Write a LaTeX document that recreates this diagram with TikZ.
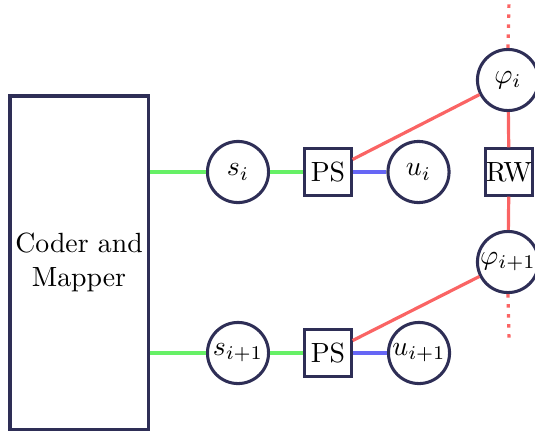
\documentclass[tikz,border=0pt]{standalone}
\definecolor{ink}{RGB}{46,46,86}
\definecolor{gwire}{RGB}{102,240,102}
\definecolor{bwire}{RGB}{102,102,245}
\definecolor{rwire}{RGB}{250,100,100}
\begin{document}
\begin{tikzpicture}[x=0.36pt,y=-0.36pt,
  blk/.style={draw=ink,line width=1.1pt,fill=white,inner sep=0pt},
  var/.style={blk,circle,minimum size=22pt},
  sq/.style={blk,minimum size=16.6pt},
  gw/.style={draw=gwire,line width=1.15pt},
  bw/.style={draw=bwire,line width=1.15pt},
  rw/.style={draw=rwire,line width=1.15pt},
  rdot/.style={rw,dash pattern=on 1.3pt off 2.3pt}]
\useasboundingbox (0,0) rectangle (535,433);

% free ends of the dotted continuations
\coordinate (topend) at (509,0);
\coordinate (botend) at (509,340);

\node[blk,minimum width=49.7pt,minimum height=119.9pt,align=center] (coder) at (79,262.5) {Coder and\\Mapper};

\node[var] (s1) at (238,172) {$s_i$};
\node[sq] (ps1) at (328,172) {PS};
\node[var] (u1) at (418.5,172) {$u_i$};
\node[var] (phi1) at (508,80) {$\varphi_i$};
\node[sq] (rwb) at (509,172) {RW};
\node[var] (phi2) at (508,262) {$\varphi_{i+1}$};

\node[var] (s2) at (238,353) {$s_{i+1}$};
\node[sq] (ps2) at (328,353) {PS};
\node[var] (u2) at (419,353) {$u_{i+1}$};

\draw[gw] (coder.east |- s1) -- (s1);
\draw[gw] (s1) -- (ps1);
\draw[bw] (ps1) -- (u1);
\draw[gw] (coder.east |- s2) -- (s2);
\draw[gw] (s2) -- (ps2);
\draw[bw] (ps2) -- (u2);

\draw[rw] (ps1) -- (phi1);
\draw[rw] (ps2) -- (phi2);
\draw[rw] (phi1) -- (rwb);
\draw[rw] (rwb) -- (phi2);
\draw[rdot] (phi1.north) -- (topend);
\draw[rdot] (phi2.south) -- (botend);
\end{tikzpicture}
\end{document}
